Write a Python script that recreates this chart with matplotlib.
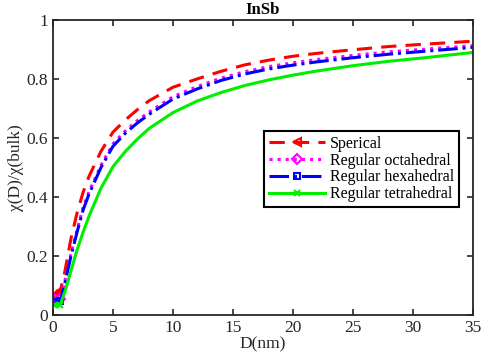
import numpy as np
import matplotlib
matplotlib.use("Agg")
import matplotlib.pyplot as plt

plt.rcParams['font.family'] = ['Liberation Serif', 'DejaVu Serif']

# values
D = [0.1, 0.6, 1.0, 1.5, 2.0, 2.5, 3.0, 4.0, 5.0, 6.0, 7.0, 8.0, 10.0, 12.0,
     14.0, 16.0, 18.0, 20.0, 22.0, 25.0, 28.0, 31.0, 35.0]
sperical = [0.068, 0.08, 0.15, 0.26, 0.345, 0.415, 0.47, 0.555, 0.62, 0.66, 0.695, 0.726,
            0.772, 0.80, 0.826, 0.848, 0.864, 0.877, 0.887, 0.899, 0.91, 0.918, 0.928]
octahedral = [0.053, 0.056, 0.118, 0.208, 0.288, 0.363, 0.418, 0.508, 0.58, 0.623, 0.658, 0.688,
              0.74, 0.774, 0.803, 0.825, 0.842, 0.855, 0.866, 0.88, 0.892, 0.901, 0.913]
hexahedral = [0.045, 0.048, 0.11, 0.20, 0.28, 0.355, 0.41, 0.50, 0.572, 0.615, 0.65, 0.68,
              0.732, 0.766, 0.795, 0.817, 0.834, 0.847, 0.858, 0.872, 0.884, 0.894, 0.907]
tetrahedral = [0.035, 0.035, 0.08, 0.15, 0.22, 0.28, 0.335, 0.43, 0.503, 0.553, 0.595, 0.632,
               0.686, 0.725, 0.754, 0.778, 0.797, 0.813, 0.827, 0.845, 0.86, 0.872, 0.89]
labels = ["Sperical", "Regular octahedral", "Regular hexahedral", "Regular tetrahedral"]

fig = plt.figure(figsize=(4.84, 3.63), dpi=100)
ax = fig.add_axes([0.1095, 0.132, 0.8675, 0.813])

mk = [0, 1]
ax.plot(D, sperical, color='#ff0000', ls=(0, (5, 3)), lw=2.2, marker='<', mfc='none',
        ms=6, mew=1.5, markevery=mk, label=labels[0])
ax.plot(D, octahedral, color='#ff00ff', ls=':', lw=2.2, marker='D', mfc='none',
        ms=5, mew=1.5, markevery=mk, label=labels[1])
ax.plot(D, hexahedral, color='#0000ff', ls='-.', lw=2.2, marker='s', mfc='none',
        ms=5, mew=1.5, markevery=mk, label=labels[2])
ax.plot(D, tetrahedral, color='#00ee00', ls='-', lw=2.2, marker='x',
        ms=5, mew=1.5, markevery=mk, label=labels[3])

ax.set_xlim(0, 35)
ax.set_ylim(0, 1)
ax.set_xticks(np.arange(0, 36, 5))
ax.set_yticks([0, 0.2, 0.4, 0.6, 0.8, 1])
ax.set_yticklabels(['0', '0.2', '0.4', '0.6', '0.8', '1'])
ax.tick_params(direction='in', top=True, right=True, labelsize=12.5, colors='#262626',
               length=4, width=1.2)
for s in ax.spines.values():
    s.set_linewidth(1.3)
    s.set_color('#262626')

ax.set_xlabel('D(nm)', fontsize=12.5, color='#262626', labelpad=0)
ax.set_ylabel('χ(D)/χ(bulk)', fontsize=12.5, color='#262626', labelpad=2)
ax.set_title('InSb', fontsize=12, fontweight='bold', pad=4)

leg = ax.legend(loc='upper right', bbox_to_anchor=(0.967, 0.624), fontsize=11.5,
                fancybox=False, framealpha=1, edgecolor='black', borderpad=0.3,
                borderaxespad=0, labelspacing=0.05, handlelength=3.5, handletextpad=0.3)
leg.get_frame().set_linewidth(1.5)

fig.savefig('out.png', dpi=100)
